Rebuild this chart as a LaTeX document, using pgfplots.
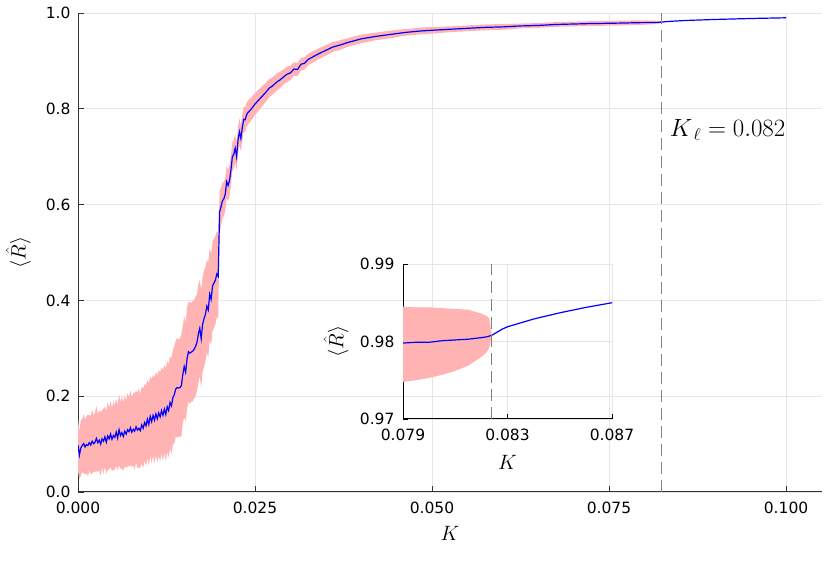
\documentclass[border=0pt]{standalone}
\usepackage{fontspec}
\setmainfont{DejaVu Sans}
\usepackage{pgfplots}
\pgfplotsset{compat=1.18}
\usepackage{pgfplotstable}
\usepgfplotslibrary{fillbetween}
\definecolor{bandred}{RGB}{255,179,179}
\definecolor{gridgray}{RGB}{230,230,230}

\pgfplotstableread{
K R E
0.0000 0.098 0.055
0.0002 0.077 0.050
0.0004 0.092 0.058
0.0006 0.097 0.055
0.0008 0.101 0.062
0.0010 0.094 0.057
0.0012 0.099 0.060
0.0014 0.097 0.064
0.0016 0.103 0.058
0.0018 0.098 0.061
0.0020 0.106 0.066
0.0022 0.101 0.059
0.0024 0.104 0.062
0.0026 0.112 0.068
0.0028 0.103 0.061
0.0030 0.108 0.063
0.0032 0.100 0.066
0.0034 0.111 0.060
0.0036 0.106 0.068
0.0038 0.115 0.063
0.0040 0.104 0.066
0.0042 0.117 0.071
0.0044 0.111 0.064
0.0046 0.121 0.069
0.0048 0.110 0.066
0.0050 0.118 0.072
0.0052 0.114 0.067
0.0054 0.125 0.070
0.0056 0.113 0.068
0.0058 0.130 0.074
0.0060 0.118 0.069
0.0062 0.124 0.076
0.0064 0.116 0.071
0.0066 0.127 0.074
0.0068 0.121 0.070
0.0070 0.130 0.077
0.0072 0.126 0.072
0.0074 0.134 0.078
0.0076 0.125 0.073
0.0078 0.131 0.076
0.0080 0.127 0.080
0.0082 0.136 0.075
0.0084 0.129 0.079
0.0086 0.133 0.082
0.0088 0.128 0.077
0.0090 0.140 0.080
0.0092 0.133 0.083
0.0094 0.145 0.080
0.0096 0.138 0.085
0.0098 0.152 0.082
0.0100 0.141 0.086
0.0102 0.158 0.083
0.0104 0.147 0.088
0.0106 0.160 0.084
0.0108 0.150 0.090
0.0110 0.163 0.087
0.0112 0.153 0.091
0.0114 0.165 0.089
0.0116 0.157 0.093
0.0118 0.170 0.090
0.0120 0.160 0.095
0.0122 0.173 0.092
0.0124 0.162 0.097
0.0126 0.178 0.094
0.0128 0.170 0.098
0.0130 0.187 0.096
0.0132 0.180 0.100
0.0134 0.197 0.098
0.0136 0.203 0.102
0.0138 0.215 0.100
0.0140 0.218 0.104
0.0142 0.217 0.101
0.0144 0.218 0.103
0.0146 0.222 0.106
0.0148 0.245 0.102
0.0150 0.262 0.105
0.0152 0.250 0.103
0.0154 0.278 0.107
0.0156 0.293 0.104
0.0158 0.290 0.106
0.0160 0.292 0.103
0.0162 0.294 0.105
0.0164 0.298 0.102
0.0166 0.304 0.104
0.0168 0.312 0.101
0.0170 0.330 0.103
0.0172 0.342 0.100
0.0174 0.320 0.102
0.0176 0.350 0.099
0.0178 0.362 0.101
0.0180 0.371 0.098
0.0182 0.388 0.097
0.0184 0.380 0.099
0.0186 0.413 0.096
0.0188 0.402 0.095
0.0190 0.430 0.094
0.0192 0.436 0.093
0.0194 0.442 0.092
0.0196 0.455 0.090
0.0198 0.450 0.088
0.0200 0.585 0.045
0.0202 0.595 0.040
0.0204 0.608 0.037
0.0206 0.612 0.035
0.0208 0.622 0.035
0.0210 0.648 0.033
0.0212 0.640 0.033
0.0214 0.650 0.032
0.0216 0.672 0.031
0.0218 0.700 0.030
0.0220 0.705 0.030
0.0222 0.718 0.029
0.0224 0.700 0.029
0.0226 0.735 0.028
0.0228 0.752 0.028
0.0230 0.738 0.027
0.0232 0.760 0.027
0.0234 0.778 0.026
0.0236 0.777 0.026
0.0238 0.787 0.025
0.0240 0.792 0.025
0.0245 0.800 0.024
0.0250 0.810 0.023
0.0255 0.818 0.022
0.0260 0.826 0.021
0.0265 0.834 0.020
0.0270 0.843 0.019
0.0275 0.848 0.018
0.0280 0.855 0.018
0.0285 0.860 0.017
0.0290 0.866 0.016
0.0295 0.872 0.016
0.0300 0.875 0.015
0.0305 0.883 0.014
0.0310 0.882 0.014
0.0315 0.893 0.013
0.0320 0.895 0.013
0.0325 0.903 0.012
0.0330 0.907 0.012
0.0340 0.915 0.011
0.0350 0.922 0.011
0.0360 0.929 0.010
0.0370 0.933 0.010
0.0380 0.938 0.009
0.0390 0.942 0.009
0.0400 0.946 0.009
0.0420 0.951 0.008
0.0440 0.955 0.008
0.0460 0.959 0.007
0.0480 0.962 0.007
0.0500 0.964 0.007
0.0525 0.966 0.006
0.0550 0.968 0.006
0.0575 0.970 0.006
0.0600 0.971 0.006
0.0625 0.973 0.005
0.0650 0.974 0.005
0.0675 0.976 0.005
0.0700 0.977 0.005
0.0725 0.978 0.005
0.0750 0.9785 0.005
0.0775 0.9792 0.005
0.0790 0.9798 0.0048
0.0800 0.9799 0.0045
0.0810 0.9802 0.0040
0.0815 0.9803 0.0036
0.0820 0.9805 0.0028
0.0823 0.9807 0.0018
0.0824 0.9808 0.0000
}\maindata

\pgfplotstableread{
K R
0.0824 0.9808
0.0826 0.9812
0.0828 0.9816
0.0830 0.9819
0.0835 0.9824
0.0840 0.9829
0.0845 0.9833
0.0850 0.9837
0.0860 0.9844
0.0870 0.9850
0.0900 0.9865
0.0950 0.9885
0.1000 0.9900
}\taildata

\pgfplotstableread{
K R lo hi
0.0785 0.9797 0.9747 0.9845
0.0790 0.9798 0.9748 0.9845
0.0795 0.9799 0.9750 0.9844
0.0800 0.9799 0.9753 0.9844
0.0805 0.9801 0.9757 0.9843
0.0810 0.9802 0.9762 0.9842
0.0815 0.9803 0.9769 0.9841
0.0820 0.9805 0.9780 0.9836
0.0822 0.9806 0.9786 0.9833
0.0823 0.9807 0.9792 0.9830
0.0824 0.9808 0.9808 0.9808
}\insetdata

\begin{document}
\begin{tikzpicture}
\begin{axis}[
  at={(0pt,0pt)}, anchor=south west,
  scale only axis, width=744pt, height=479pt,
  xmin=0, xmax=0.10508, ymin=0, ymax=1,
  axis x line*=bottom, axis y line*=left,
  axis line style={-, black!80, line width=1pt},
  xtick={0,0.025,0.05,0.075,0.1},
  ytick={0,0.2,0.4,0.6,0.8,1.0},
  scaled x ticks=false,
  xticklabel style={/pgf/number format/fixed, /pgf/number format/fixed zerofill, /pgf/number format/precision=3, yshift=-6pt},
  yticklabel style={/pgf/number format/fixed, /pgf/number format/fixed zerofill, /pgf/number format/precision=1, xshift=-4pt},
  /pgf/number format/assume math mode=true,
  ticklabel style={font=\fontsize{15.5}{18}\selectfont},
  tick align=inside, major tick length=6pt,
  tick style={black!80, line width=0.9pt},
  grid=major, major grid style={gridgray, line width=0.7pt},
  xlabel={$K$}, ylabel={$\langle\hat{R}\rangle$},
  label style={font=\fontsize{21}{24}\selectfont},
  xlabel style={at={(axis description cs:0.5,-0.0856)}, anchor=center},
  ylabel style={at={(axis description cs:-0.080,0.5)}, anchor=center},
  clip=true,
]
\addplot[name path=up, draw=none, forget plot] table[x=K, y expr=\thisrow{R}+\thisrow{E}] {\maindata};
\addplot[name path=lo, draw=none, forget plot] table[x=K, y expr=\thisrow{R}-\thisrow{E}] {\maindata};
\addplot[bandred, draw=none] fill between[of=up and lo];
\addplot[blue, line width=1.2pt] table[x=K, y=R] {\maindata};
\addplot[blue, line width=1.2pt] table[x=K, y=R] {\taildata};
\addplot[gray, dash pattern=on 12pt off 6pt, line width=1.1pt] coordinates {(0.0824,0) (0.0824,1)};
\node[anchor=west, font=\fontsize{23}{26}\selectfont] at (axis cs:0.0831,0.756) {$K_{\,\ell} = 0.082$};
\end{axis}

\begin{axis}[
  at={(325pt,73pt)}, anchor=south west,
  scale only axis, width=209pt, height=155pt,
  xmin=0.079, xmax=0.087, ymin=0.97, ymax=0.99,
  axis background/.style={fill=white},
  axis x line*=bottom, axis y line*=left,
  axis line style={-, black, line width=1pt},
  xtick={0.079,0.083,0.087},
  ytick={0.97,0.98,0.99},
  scaled x ticks=false, scaled y ticks=false,
  xticklabel style={/pgf/number format/fixed, /pgf/number format/fixed zerofill, /pgf/number format/precision=3, yshift=-6pt},
  yticklabel style={/pgf/number format/fixed, /pgf/number format/fixed zerofill, /pgf/number format/precision=2, xshift=-5pt},
  /pgf/number format/assume math mode=true,
  ticklabel style={font=\fontsize{15.5}{18}\selectfont},
  tick align=inside, major tick length=5pt,
  tick style={black, line width=0.9pt},
  grid=major, major grid style={gridgray, line width=0.7pt},
  xlabel={$K$}, ylabel={$\langle\hat{R}\rangle$},
  label style={font=\fontsize{21}{24}\selectfont},
  xlabel style={at={(axis description cs:0.5,-0.277)}, anchor=center},
  ylabel style={at={(axis description cs:-0.32,0.5)}, anchor=center},
  clip=true,
]
\addplot[name path=iup, draw=none, forget plot] table[x=K, y=hi] {\insetdata};
\addplot[name path=ilo, draw=none, forget plot] table[x=K, y=lo] {\insetdata};
\addplot[bandred, draw=none] fill between[of=iup and ilo];
\addplot[blue, line width=1.2pt] table[x=K, y=R] {\insetdata};
\addplot[blue, line width=1.2pt] table[x=K, y=R] {\taildata};
\addplot[gray, dash pattern=on 12pt off 6pt, line width=1.1pt] coordinates {(0.0824,0.97) (0.0824,0.99)};
\end{axis}
\pgfresetboundingbox
\useasboundingbox (-78pt,-91pt) rectangle (751pt,492pt);
\end{tikzpicture}
\end{document}
